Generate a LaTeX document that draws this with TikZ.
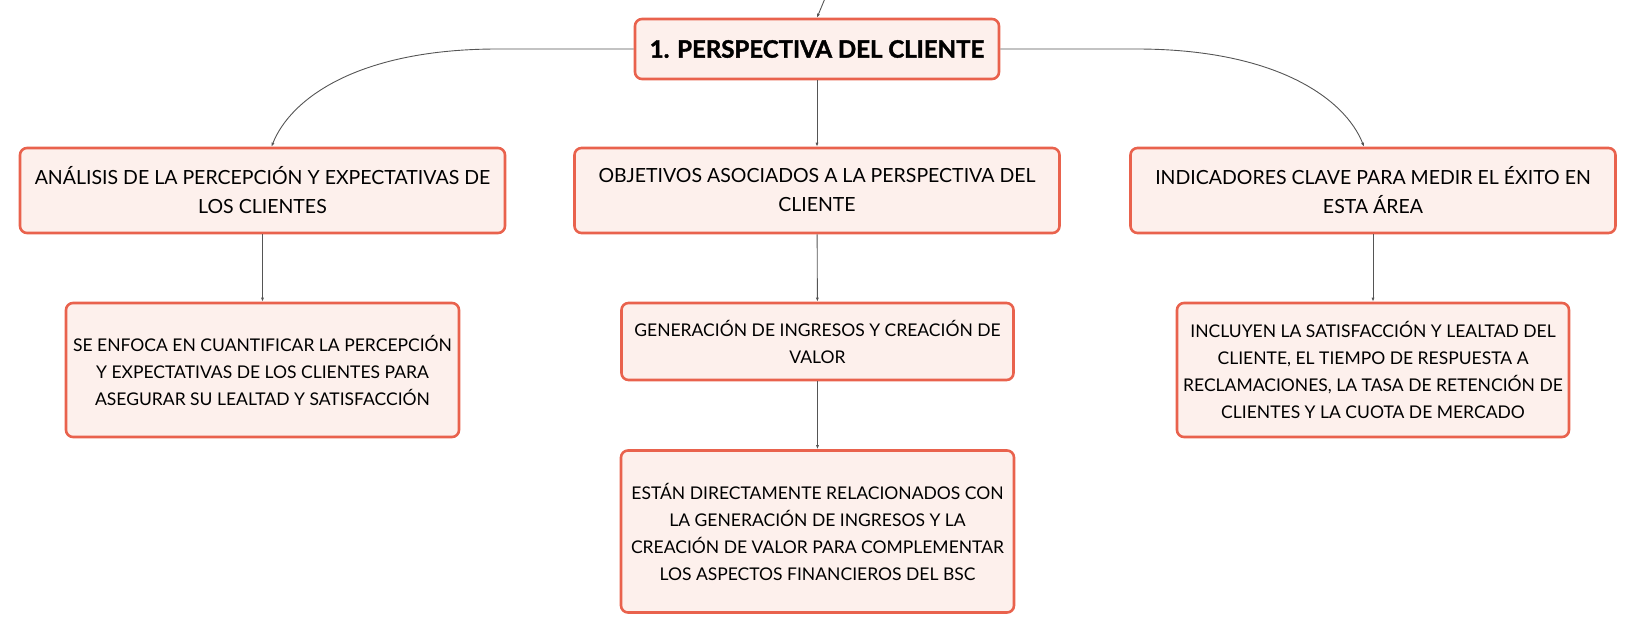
\documentclass[tikz,border=0pt]{standalone}
\usepackage{fontspec}
\setmainfont{Lato}[BoldFeatures={FakeBold=1.6}]
\usetikzlibrary{arrows.meta}
\definecolor{borde}{HTML}{E9624D}
\definecolor{fondo}{HTML}{FDF0EC}
\definecolor{linea}{HTML}{555555}

\begin{document}
\begin{tikzpicture}[x=1pt,y=-1pt,
    caja/.style={draw=borde, fill=fondo, line width=2.6pt, rounded corners=7pt, align=center, inner sep=0pt, font=\fontsize{19.5}{29}\selectfont},
    hoja/.style={caja, font=\fontsize{17.5}{27}\selectfont},
    enlace/.style={draw=linea, line width=0.9pt, -{Latex[length=4pt,width=3pt]}}]

        \useasboundingbox (0,0) rectangle (1636,634);

        \node[caja, font=\fontsize{24}{29}\selectfont\bfseries, minimum width=364pt, minimum height=60pt] (raiz) at (817,49) {1. PERSPECTIVA DEL CLIENTE};

        \node[caja, minimum width=485pt, minimum height=85pt] (analisis) at (262.5,190.5) {ANÁLISIS DE LA PERCEPCIÓN Y EXPECTATIVAS DE\\LOS CLIENTES};
        \node[caja, minimum width=485pt, minimum height=85pt] (objetivos) at (817,190.5) {OBJETIVOS ASOCIADOS A LA PERSPECTIVA DEL\\CLIENTE};
        \node[caja, minimum width=485pt, minimum height=85pt] (indicadores) at (1373,190.5) {INDICADORES CLAVE PARA MEDIR EL ÉXITO EN\\ESTA ÁREA};

        \node[hoja, minimum width=393pt, minimum height=134pt] (enfoque) at (262.5,370) {SE ENFOCA EN CUANTIFICAR LA PERCEPCIÓN\\Y EXPECTATIVAS DE LOS CLIENTES PARA\\ASEGURAR SU LEALTAD Y SATISFACCIÓN};
        \node[hoja, minimum width=392pt, minimum height=77pt] (generacion) at (817.5,341.5) {GENERACIÓN DE INGRESOS Y CREACIÓN DE\\VALOR};
        \node[hoja, minimum width=393pt, minimum height=162pt] (relacion) at (817.5,531.5) {ESTÁN DIRECTAMENTE RELACIONADOS CON\\LA GENERACIÓN DE INGRESOS Y LA\\CREACIÓN DE VALOR PARA COMPLEMENTAR\\LOS ASPECTOS FINANCIEROS DEL BSC};
        \node[hoja, minimum width=392pt, minimum height=134pt] (incluyen) at (1373,370) {INCLUYEN LA SATISFACCIÓN Y LEALTAD DEL\\CLIENTE, EL TIEMPO DE RESPUESTA A\\RECLAMACIONES, LA TASA DE RETENCIÓN DE\\CLIENTES Y LA CUOTA DE MERCADO};

        \coordinate (padre) at (826,-4);
        \draw[enlace] (padre) -- (raiz.north);

        \draw[enlace] (raiz.west) -- ++(-136,0) .. controls ++(-140,0) and ++(19,-48) .. ([xshift=9pt]analisis.north);
        \draw[enlace] (raiz.east) -- ++(136,0) .. controls ++(140,0) and ++(-19,-48) .. ([xshift=-9pt]indicadores.north);
        \draw[enlace] (raiz) -- (objetivos);

        \draw[enlace] (analisis) -- (enfoque);
        \draw[enlace] (objetivos) -- (generacion);
        \draw[enlace] (generacion) -- (relacion);
        \draw[enlace] (indicadores) -- (incluyen);
    \end{tikzpicture}
\end{document}
